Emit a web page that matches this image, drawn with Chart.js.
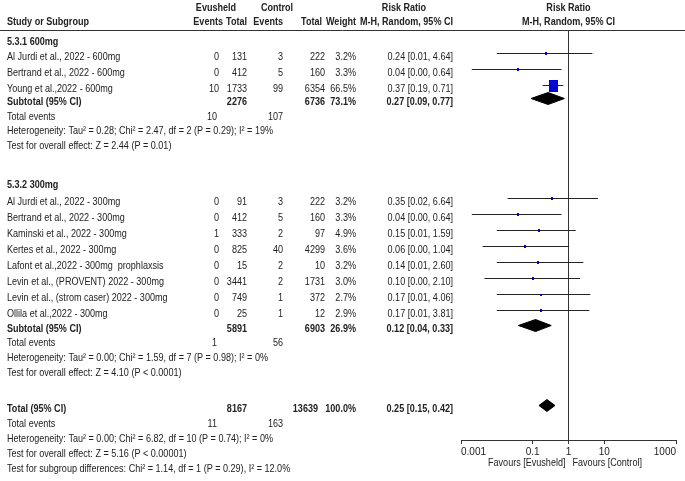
<!DOCTYPE html>
<html lang="en">
<head>
<meta charset="UTF-8">
<title>Evusheld vs Control - Forest plot</title>
<script src="https://cdn.jsdelivr.net/npm/chart.js"></script>
<style>
  html, body { margin: 0; padding: 0; background: #fff; }
  canvas { display: block; }
</style>
</head>
<body>
<canvas id="forest" width="685" height="481"></canvas>
<script>
// ---- data ----
const groupLabels = ['5.3.1 600mg', '5.3.2 300mg'];

const studies600 = ['Al Jurdi et al., 2022 - 600mg', 'Bertrand et al., 2022 - 600mg', 'Young et al.,2022 - 600mg'];
const evEvents600 = [0, 0, 10];
const evTotal600 = [131, 412, 1733];
const ctEvents600 = [3, 5, 99];
const ctTotal600 = [222, 160, 6354];
const weight600 = [3.2, 3.3, 66.5];
const rr600 = [0.24, 0.04, 0.37];
const lo600 = [0.01, 0.002, 0.19];
const hi600 = [4.64, 0.64, 0.71];

const studies300 = [
  'Al Jurdi et al., 2022 - 300mg', 'Bertrand et al., 2022 - 300mg', 'Kaminski et al., 2022 - 300mg',
  'Kertes et al., 2022 - 300mg', 'Lafont et al.,2022 - 300mg  prophlaxsis', 'Levin et al., (PROVENT) 2022 - 300mg',
  'Levin et al., (strom caser) 2022 - 300mg', 'Ollila et al.,2022 - 300mg'
];
const evEvents300 = [0, 0, 1, 0, 0, 0, 0, 0];
const evTotal300 = [91, 412, 333, 825, 15, 3441, 749, 25];
const ctEvents300 = [3, 5, 2, 40, 2, 2, 1, 1];
const ctTotal300 = [222, 160, 97, 4299, 10, 1731, 372, 12];
const weight300 = [3.2, 3.3, 4.9, 3.6, 3.2, 3.0, 2.7, 2.9];
const rr300 = [0.35, 0.04, 0.15, 0.06, 0.14, 0.10, 0.17, 0.17];
const lo300 = [0.02, 0.002, 0.01, 0.004, 0.01, 0.0045, 0.01, 0.01];
const hi300 = [6.64, 0.64, 1.59, 1.04, 2.60, 2.10, 4.06, 3.81];

// subtotals (600mg, 300mg) and overall
const subEvTotal = [2276, 5891];
const subCtTotal = [6736, 6903];
const subWeight = [73.1, 26.9];
const subRR = [0.27, 0.12];
const subLo = [0.09, 0.04];
const subHi = [0.77, 0.33];

const overallEvTotal = 8167;
const overallCtTotal = 13639;
const overallWeight = 100.0;
const overallRR = 0.25;
const overallLo = 0.15;
const overallHi = 0.42;

// total events rows: 600mg, 300mg, overall
const totalEventsEv = [10, 1, 11];
const totalEventsCt = [107, 56, 163];

const heterogeneity = [
  'Heterogeneity: Tau\u00b2 = 0.28; Chi\u00b2 = 2.47, df = 2 (P = 0.29); I\u00b2 = 19%',
  'Heterogeneity: Tau\u00b2 = 0.00; Chi\u00b2 = 1.59, df = 7 (P = 0.98); I\u00b2 = 0%',
  'Heterogeneity: Tau\u00b2 = 0.00; Chi\u00b2 = 6.82, df = 10 (P = 0.74); I\u00b2 = 0%'
];
const overallEffect = [
  'Test for overall effect: Z = 2.44 (P = 0.01)',
  'Test for overall effect: Z = 4.10 (P < 0.0001)',
  'Test for overall effect: Z = 5.16 (P < 0.00001)'
];
const subgroupTest = 'Test for subgroup differences: Chi\u00b2 = 1.14, df = 1 (P = 0.29), I\u00b2 = 12.0%';

const tickValues = [0.001, 0.1, 1, 10, 1000];
const tickLabels = ['0.001', '0.1', '1', '10', '1000'];

// ---- layout (y in scale units = px below the header rule) ----
const FONT = "'Liberation Sans Narrow', 'Arial Narrow', 'Liberation Sans', Arial, sans-serif";
const INK = '#222';
const BOX = '#0000d8';

const layout = {
  groupY: [9, 151.5],
  studyY: [[23.5, 39.5, 55.5], [168.5, 184.5, 200.5, 216.5, 232.5, 248.5, 264.5, 280.5]],
  subY: [68.5, 295.5],
  statsY: [[83.5, 98, 113], [310, 325, 340]],
  overallY: 375.5,
  overallStatsY: [390.5, 405.5, 420.5, 435.5]
};
const col = { name: 7, evEv: 219, evTot: 247, ctEv: 283, ctTot: 325, ctTotHead: 322, ctTotAll: 318, weight: 356, ci: 453, totEv: 217 };

const groups = [
  { names: studies600, evE: evEvents600, evT: evTotal600, ctE: ctEvents600, ctT: ctTotal600, w: weight600, rr: rr600, lo: lo600, hi: hi600 },
  { names: studies300, evE: evEvents300, evT: evTotal300, ctE: ctEvents300, ctT: ctTotal300, w: weight300, rr: rr300, lo: lo300, hi: hi300 }
];

const ciText = (rr, lo, hi) => rr.toFixed(2) + ' [' + lo.toFixed(2) + ', ' + hi.toFixed(2) + ']';

// box size grows with the study weight
const boxCache = {};
function boxFor(weight) {
  const k = Math.sqrt(weight / 66.5);
  const w = Math.max(2, Math.round(9 * k));
  const h = Math.max(2, Math.round(12 * k));
  const key = w + 'x' + h;
  if (!boxCache[key]) {
    const c = document.createElement('canvas');
    c.width = w; c.height = h;
    const g = c.getContext('2d');
    g.fillStyle = BOX;
    g.fillRect(0, 0, w, h);
    boxCache[key] = c;
  }
  return boxCache[key];
}

const boxPoints = [];
const boxWeights = [];
const ciDatasets = [];
groups.forEach((g, gi) => {
  g.rr.forEach((rr, i) => {
    const y = layout.studyY[gi][i];
    boxPoints.push({ x: rr, y });
    boxWeights.push(g.w[i]);
    ciDatasets.push({
      type: 'line', data: [{ x: g.lo[i], y }, { x: g.hi[i], y }],
      borderColor: INK, borderWidth: 1, pointRadius: 0, fill: false
    });
  });
});

function diamond(rr, lo, hi, y) {
  const dh = 6;
  return {
    type: 'line',
    data: [{ x: lo, y }, { x: rr, y: y - dh }, { x: hi, y }, { x: rr, y: y + dh }, { x: lo, y }],
    borderColor: '#000', backgroundColor: '#000', borderWidth: 1, pointRadius: 0, fill: 'shape', tension: 0
  };
}
const diamonds = [
  diamond(subRR[0], subLo[0], subHi[0], layout.subY[0]),
  diamond(subRR[1], subLo[1], subHi[1], layout.subY[1]),
  diamond(overallRR, overallLo, overallHi, layout.overallY)
];

// ---- text table drawn next to the plot ----
let sx = 1;
function txt(ctx, s, x, yCap, align, bold) {
  ctx.save();
  ctx.font = (bold ? 'bold ' : '') + '11px ' + FONT;
  ctx.fillStyle = INK;
  ctx.textAlign = align || 'left';
  ctx.textBaseline = 'alphabetic';
  ctx.translate(x, yCap + 4);
  ctx.scale(sx, 1);
  ctx.fillText(s, 0, 0);
  ctx.restore();
}

const tablePlugin = {
  id: 'forestTable',
  beforeDatasetsDraw(chart) {
    const ctx = chart.ctx;
    ctx.save();
    ctx.font = '11px ' + FONT;
    sx = 266 / ctx.measureText(heterogeneity[0]).width;
    ctx.strokeStyle = '#333';
    ctx.lineWidth = 1;
    ctx.beginPath();
    ctx.moveTo(0, chart.chartArea.top + 0.5);
    ctx.lineTo(chart.width, chart.chartArea.top + 0.5);
    ctx.stroke();
    ctx.restore();
  },
  afterDraw(chart) {
    const ctx = chart.ctx;
    const ys = chart.scales.y;
    const xs = chart.scales.x;
    const py = v => ys.getPixelForValue(v) + 2;
    const one = xs.getPixelForValue(1);

    // header
    txt(ctx, 'Evusheld', 216, 7, 'center', true);
    txt(ctx, 'Control', 277, 7, 'center', true);
    txt(ctx, 'Risk Ratio', 404, 7, 'center', true);
    txt(ctx, 'Risk Ratio', one, 7, 'center', true);
    txt(ctx, 'Study or Subgroup', col.name, 21, 'left', true);
    txt(ctx, 'Events', 223, 21, 'right', true);
    txt(ctx, 'Total', col.evTot, 21, 'right', true);
    txt(ctx, 'Events', col.ctEv, 21, 'right', true);
    txt(ctx, 'Total', col.ctTotHead, 21, 'right', true);
    txt(ctx, 'Weight', col.weight, 21, 'right', true);
    txt(ctx, 'M-H, Random, 95% CI', col.ci, 21, 'right', true);
    txt(ctx, 'M-H, Random, 95% CI', one, 21, 'center', true);

    groups.forEach((g, gi) => {
      txt(ctx, groupLabels[gi], col.name, py(layout.groupY[gi]), 'left', true);
      g.names.forEach((name, i) => {
        const y = py(layout.studyY[gi][i]);
        txt(ctx, name, col.name, y);
        txt(ctx, String(g.evE[i]), col.evEv, y, 'right');
        txt(ctx, String(g.evT[i]), col.evTot, y, 'right');
        txt(ctx, String(g.ctE[i]), col.ctEv, y, 'right');
        txt(ctx, String(g.ctT[i]), col.ctTot, y, 'right');
        txt(ctx, g.w[i].toFixed(1) + '%', col.weight, y, 'right');
        txt(ctx, ciText(g.rr[i], g.lo[i], g.hi[i]), col.ci, y, 'right');
      });
      const sy = py(layout.subY[gi]);
      txt(ctx, 'Subtotal (95% CI)', col.name, sy, 'left', true);
      txt(ctx, String(subEvTotal[gi]), col.evTot, sy, 'right', true);
      txt(ctx, String(subCtTotal[gi]), col.ctTot, sy, 'right', true);
      txt(ctx, subWeight[gi].toFixed(1) + '%', col.weight, sy, 'right', true);
      txt(ctx, ciText(subRR[gi], subLo[gi], subHi[gi]), col.ci, sy, 'right', true);
      const st = layout.statsY[gi].map(py);
      txt(ctx, 'Total events', col.name, st[0]);
      txt(ctx, String(totalEventsEv[gi]), col.totEv, st[0], 'right');
      txt(ctx, String(totalEventsCt[gi]), col.ctEv, st[0], 'right');
      txt(ctx, heterogeneity[gi], col.name, st[1]);
      txt(ctx, overallEffect[gi], col.name, st[2]);
    });

    const oy = py(layout.overallY);
    txt(ctx, 'Total (95% CI)', col.name, oy, 'left', true);
    txt(ctx, String(overallEvTotal), col.evTot, oy, 'right', true);
    txt(ctx, String(overallCtTotal), col.ctTotAll, oy, 'right', true);
    txt(ctx, overallWeight.toFixed(1) + '%', col.weight, oy, 'right', true);
    txt(ctx, ciText(overallRR, overallLo, overallHi), col.ci, oy, 'right', true);
    const os = layout.overallStatsY.map(py);
    txt(ctx, 'Total events', col.name, os[0]);
    txt(ctx, String(totalEventsEv[2]), col.totEv, os[0], 'right');
    txt(ctx, String(totalEventsCt[2]), col.ctEv, os[0], 'right');
    txt(ctx, heterogeneity[2], col.name, os[1]);
    txt(ctx, overallEffect[2], col.name, os[2]);
    txt(ctx, subgroupTest, col.name, os[3]);

    // favours labels under the axis
    txt(ctx, 'Favours [Evusheld]', one - 3, 462, 'right');
    txt(ctx, 'Favours [Control]', one + 4, 462, 'left');
  }
};

new Chart(document.getElementById('forest'), {
  type: 'scatter',
  data: {
    datasets: [
      {
        data: boxPoints,
        pointStyle: ctx => boxFor(boxWeights[ctx.dataIndex]),
        pointRadius: 3,
        backgroundColor: BOX,
        borderColor: BOX
      },
      ...diamonds,
      ...ciDatasets
    ]
  },
  options: {
    responsive: false,
    devicePixelRatio: 1,
    animation: false,
    layout: { padding: { left: 461, right: 9, top: 30, bottom: 0 } },
    plugins: { legend: { display: false }, tooltip: { enabled: false } },
    elements: { line: { tension: 0 } },
    scales: {
      x: {
        type: 'logarithmic',
        min: 0.001,
        max: 1000,
        afterBuildTicks: s => { s.ticks = tickValues.map(v => ({ value: v })); },
        afterFit: s => { s.height = 41; },
        ticks: {
          callback: (v, i) => tickLabels[i],
          align: 'inner',
          autoSkip: false,
          maxRotation: 0,
          padding: 2,
          color: INK,
          font: { family: FONT, size: 10 }
        },
        grid: {
          color: c => (c.tick && c.tick.value === 1 ? '#333' : 'rgba(0,0,0,0)'),
          tickColor: '#333',
          tickLength: 4
        },
        border: { display: true, color: '#333', width: 1 }
      },
      y: {
        type: 'linear',
        display: false,
        min: 0,
        max: 410,
        reverse: true
      }
    }
  },
  plugins: [tablePlugin]
});
</script>
</body>
</html>
